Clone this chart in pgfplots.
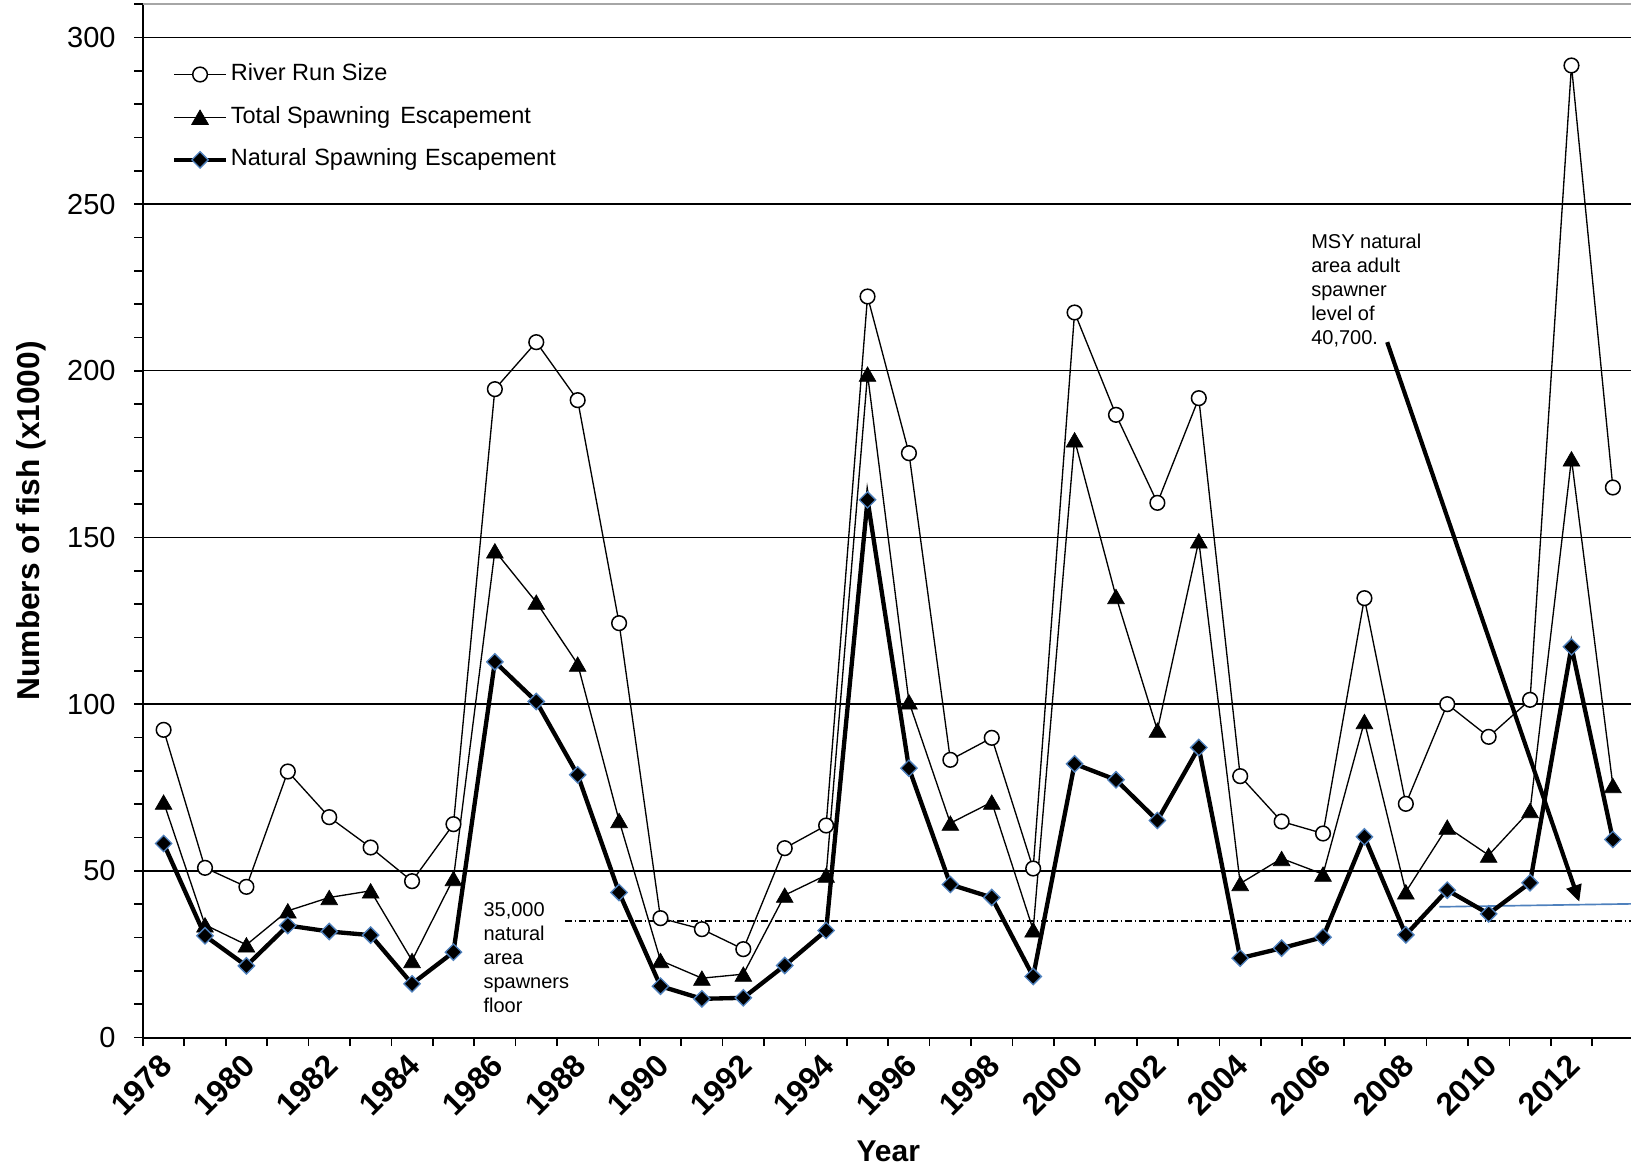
\documentclass[border=0pt]{standalone}
\usepackage{fontspec}
\setmainfont{Liberation Sans}
\usepackage{pgfplots}
\usepackage{pgfplotstable}
\pgfplotsset{compat=1.18}
\usetikzlibrary{arrows.meta}
\definecolor{edgeblue}{RGB}{79,129,189}

\pgfplotstableread{
year river total natural
1978 92.3 70.6 58.2
1979 50.9 33.8 30.5
1980 45.2 27.8 21.5
1981 79.8 38.0 33.6
1982 66.1 42.0 31.8
1983 57.0 44.0 30.7
1984 46.9 23.1 16.1
1985 64.0 47.7 25.6
1986 194.5 146.0 112.7
1987 208.6 130.6 100.8
1988 191.2 112.0 78.8
1989 124.3 65.1 43.5
1990 35.8 23.1 15.4
1991 32.5 17.8 11.6
1992 26.5 19.0 11.9
1993 56.8 42.7 21.6
1994 63.6 48.7 32.1
1995 222.3 199.0 161.3
1996 175.3 100.7 80.8
1997 83.3 64.3 45.9
1998 89.9 70.6 42.0
1999 50.7 32.3 18.3
2000 217.5 179.3 82.1
2001 186.8 132.3 77.3
2002 160.4 92.2 65.1
2003 191.8 149.0 87.0
2004 78.4 46.2 23.8
2005 64.8 53.7 26.8
2006 61.2 49.0 30.1
2007 131.8 94.8 60.2
2008 70.1 43.7 30.8
2009 100.0 63.1 44.2
2010 90.2 54.7 37.1
2011 101.3 68.1 46.4
2012 291.6 173.6 117.2
2013 165.0 75.6 59.4
}\datatable

\begin{document}
\begin{tikzpicture}
\begin{axis}[
  scale only axis,
  width=447.2pt, height=310pt,
  xmin=1977.5, xmax=2013.5, ymin=0, ymax=310,
  axis x line*=bottom, axis y line*=left,
  axis line style={line width=0.6pt, -},
  clip=false,
  tick align=outside,
  major tick length=0pt, minor tick length=2.6pt,
  every tick/.style={black, line width=0.5pt},
  xtick={1978,1980,...,2012},
  minor xtick={1977.5,1978.5,...,2013.5},
  ytick={0,50,...,300},
  minor ytick={0,10,...,310},
  ymajorgrids,
  major grid style={black, line width=0.4pt},
  /pgf/number format/assume math mode=true,
  /pgf/number format/1000 sep={},
  xticklabel style={font=\bfseries\fontsize{9.5}{10}\selectfont, inner sep=0pt, xshift=0.9pt, yshift=-6.6pt, rotate=45, anchor=east},
  yticklabel style={font=\fontsize{8.7}{10}\selectfont, inner sep=0pt, anchor=east, xshift=-8.0pt},
  ylabel={Numbers of fish (x1000)},
  xlabel={Year},
  every axis y label/.style={at={(rel axis cs:0,0.5)}, anchor=center, xshift=-33.6pt, rotate=90, font=\bfseries\fontsize{9.5}{11}\selectfont},
  every axis x label/.style={at={(rel axis cs:0.5,0)}, anchor=base, yshift=-37.3pt, font=\bfseries\fontsize{9}{11}\selectfont},
  legend image code/.code={\draw[mark repeat=2,mark phase=2] plot coordinates {(0pt,0pt)(7.8pt,0pt)(15.6pt,0pt)};},
  legend style={draw=none, fill=none, inner sep=0pt, outer sep=0pt,
    at={(axis cs:1978.2,293)}, anchor=north west,
    font=\fontsize{7.05}{8}\selectfont, row sep=4.6pt,
    nodes={inner sep=0.8pt}},
  legend cell align=left,
]
\coordinate (O) at (rel axis cs:0,0);
\draw[gray!70, line width=0.5pt] (rel axis cs:0,1) -- (rel axis cs:1,1);

\addplot[forget plot, black, line width=0.4pt, dash pattern=on 2pt off 0.9pt on 0.4pt off 0.9pt] coordinates {(1987.69,35) (2013.5,35)};
\addplot[forget plot, edgeblue, line width=0.5pt] coordinates {(2008.81,39.2) (2013.5,40.1)};

\addplot[black, line width=0.4pt, mark=*, mark size=2.2pt, mark options={fill=white, draw=black, line width=0.45pt}] table[x=year,y=river]{\datatable};
\addlegendentry{River Run Size}
\addplot[black, line width=0.4pt, mark=triangle*, mark size=2.9pt, mark options={yshift=-0.72pt, line width=0.2pt}] table[x=year,y=total]{\datatable};
\addlegendentry{Total Spawning\hspace{0.15em} Escapement}
\addplot[black, line width=1.3pt, mark=square*, mark size=1.73pt, mark options={rotate=45, fill=black, draw=edgeblue, line width=0.4pt}] table[x=year,y=natural]{\datatable};
\addlegendentry{Natural\hspace{0.05em} Spawning\hspace{0.05em} Escapement}

\node[anchor=north west, inner sep=0pt, align=left, font=\fontsize{6}{7.2}\selectfont] at (axis cs:1985.71,40.7) {35,000\\natural\\area\\spawners\\floor};
\node[anchor=north west, inner sep=0pt, align=left, font=\fontsize{6}{7.2}\selectfont] at (axis cs:2005.7,241.1) {MSY natural\\area adult\\spawner\\level of\\40,700.};
\draw[black, line width=1.25pt, -{Triangle[length=5pt,width=4.5pt]}] (axis cs:2007.55,208.6) -- (axis cs:2012.19,40.7);
\end{axis}
\pgfresetboundingbox
\path[use as bounding box] ([xshift=-42.87pt,yshift=-39.45pt]O) rectangle ([xshift=446.43pt,yshift=311.25pt]O);
\end{tikzpicture}
\end{document}
